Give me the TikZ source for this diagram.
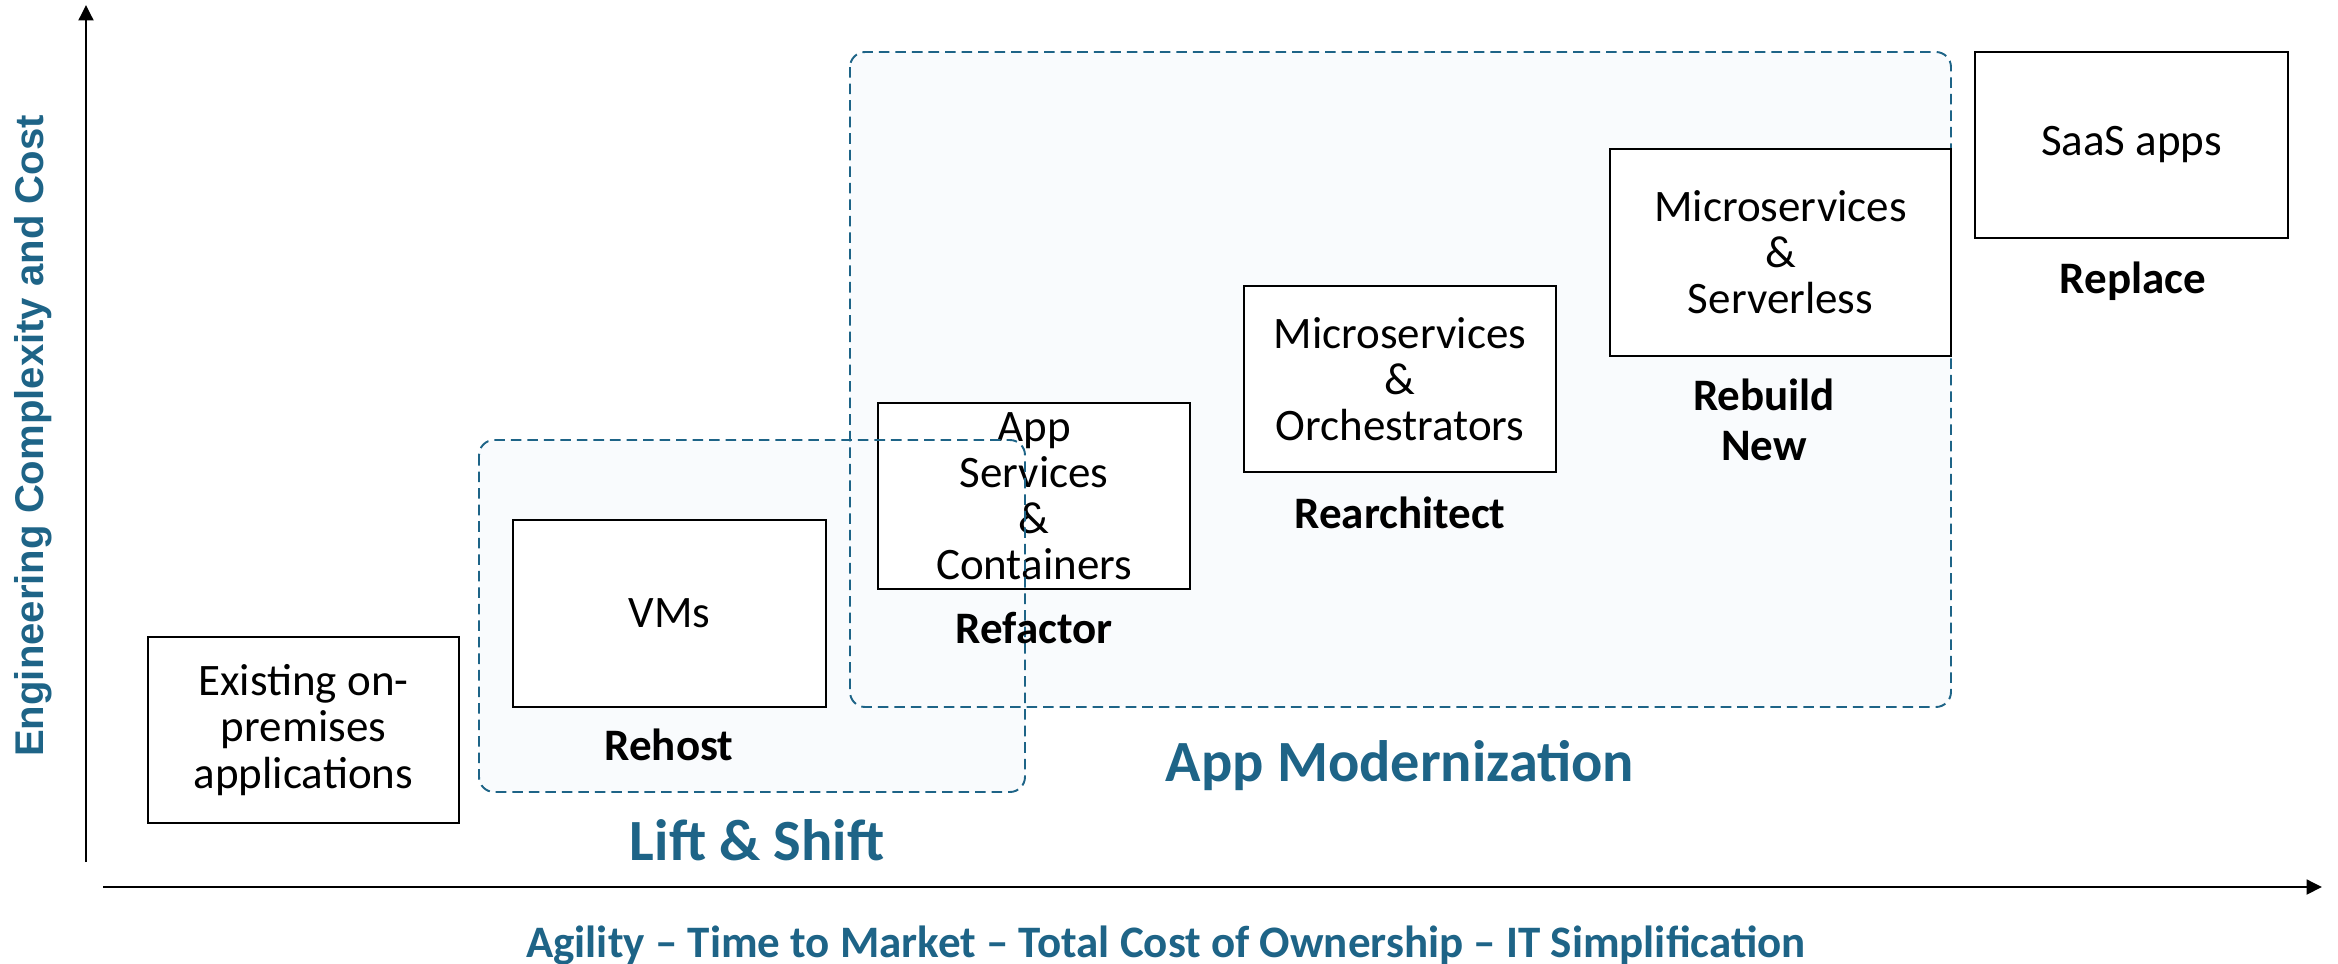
\documentclass[tikz,border=0pt]{standalone}
\usepackage{fontspec}
\setmainfont{Carlito}
\newfontfamily\ylabfont{Liberation Sans}
\usetikzlibrary{arrows.meta}
\definecolor{teal1}{HTML}{1E6487}
\definecolor{zonefill}{HTML}{F9FBFD}
\begin{document}
\begin{tikzpicture}[x=0.01cm,y=-0.01cm,
  box/.style={draw=black, line width=0.75pt, fill=white, align=center, inner sep=0pt,
              font=\fontsize{12.8}{13.1}\selectfont},
  lbl/.style={font=\bfseries\fontsize{12.8}{14.2}\selectfont, align=center, inner sep=0pt},
  zone/.style={draw=teal1, line width=0.55pt, dash pattern=on 3pt off 1.7pt, rounded corners=4.3pt},
  zonebg/.style={fill=zonefill, rounded corners=4.3pt},
  zlabel/.style={text=teal1, font=\bfseries\fontsize{16.6}{18}\selectfont, inner sep=0pt},
  axlabel/.style={text=teal1, font=\bfseries\fontsize{12.8}{14}\selectfont, inner sep=0pt},
  axis/.style={line width=0.75pt, -{Triangle[length=4.4pt,width=4.2pt]}}
]
\useasboundingbox (0,0) rectangle (2338,963);

% zone backgrounds
\fill[zonebg] (850,52) rectangle (1951,707);
\fill[zonebg] (479,440) rectangle (1025,792);
% App Modernization zone outline
\draw[zone] (850,52) rectangle (1951,707);

% boxes
\node[box, minimum width=3.11cm, minimum height=1.86cm] (exist) at (303.5,730)
  {Existing on-\\premises\\applications};
\node[box, minimum width=3.13cm, minimum height=1.87cm] (vms) at (669.5,613.5) {VMs};
\node[box, minimum width=3.12cm, minimum height=1.86cm] (refac) at (1034,496)
  {App\\Services\\\&\\Containers};
\node[box, minimum width=3.12cm, minimum height=1.86cm] (rearch) at (1400,379)
  {Microservices\\\&\\Orchestrators};
\node[box, minimum width=3.41cm, minimum height=2.07cm] (rebuild) at (1780.5,252.5)
  {Microservices\\\&\\Serverless};
\node[box, minimum width=3.13cm, minimum height=1.86cm] (saas) at (2131.5,145) {SaaS apps};

% Lift & Shift zone outline (drawn over boxes)
\draw[zone] (479,440) rectangle (1025,792);

% labels
\node[lbl] (rehost) at (669,745) {Rehost};
\node[lbl] (refactor) at (1034,628) {Refactor};
\node[lbl] (rearchitect) at (1400,513) {Rearchitect};
\node[lbl] (rebuildlbl) at (1764,420) {Rebuild\\New};
\node[lbl] (replace) at (2133,281) {Replace};

\node[zlabel] (lift) at (757,840) {Lift \& Shift};
\node[zlabel] (appmod) at (1400,766) {App Modernization};

% axes
\coordinate (ybot) at (86,862);
\coordinate (ytop) at (86,5);
\coordinate (xleft) at (103,887);
\coordinate (xright) at (2322,887);
\draw[axis] (ybot) -- (ytop);
\draw[axis] (xleft) -- (xright);

\node[axlabel] (xlab) at (1166,945)
  {Agility -- Time to Market -- Total Cost of Ownership -- IT Simplification};
\node[text=teal1, inner sep=0pt, rotate=90, font=\ylabfont\bfseries\fontsize{11.4}{13}\selectfont]
  (ylab) at (33,436) {Engineering Complexity and Cost};
\end{tikzpicture}
\end{document}
